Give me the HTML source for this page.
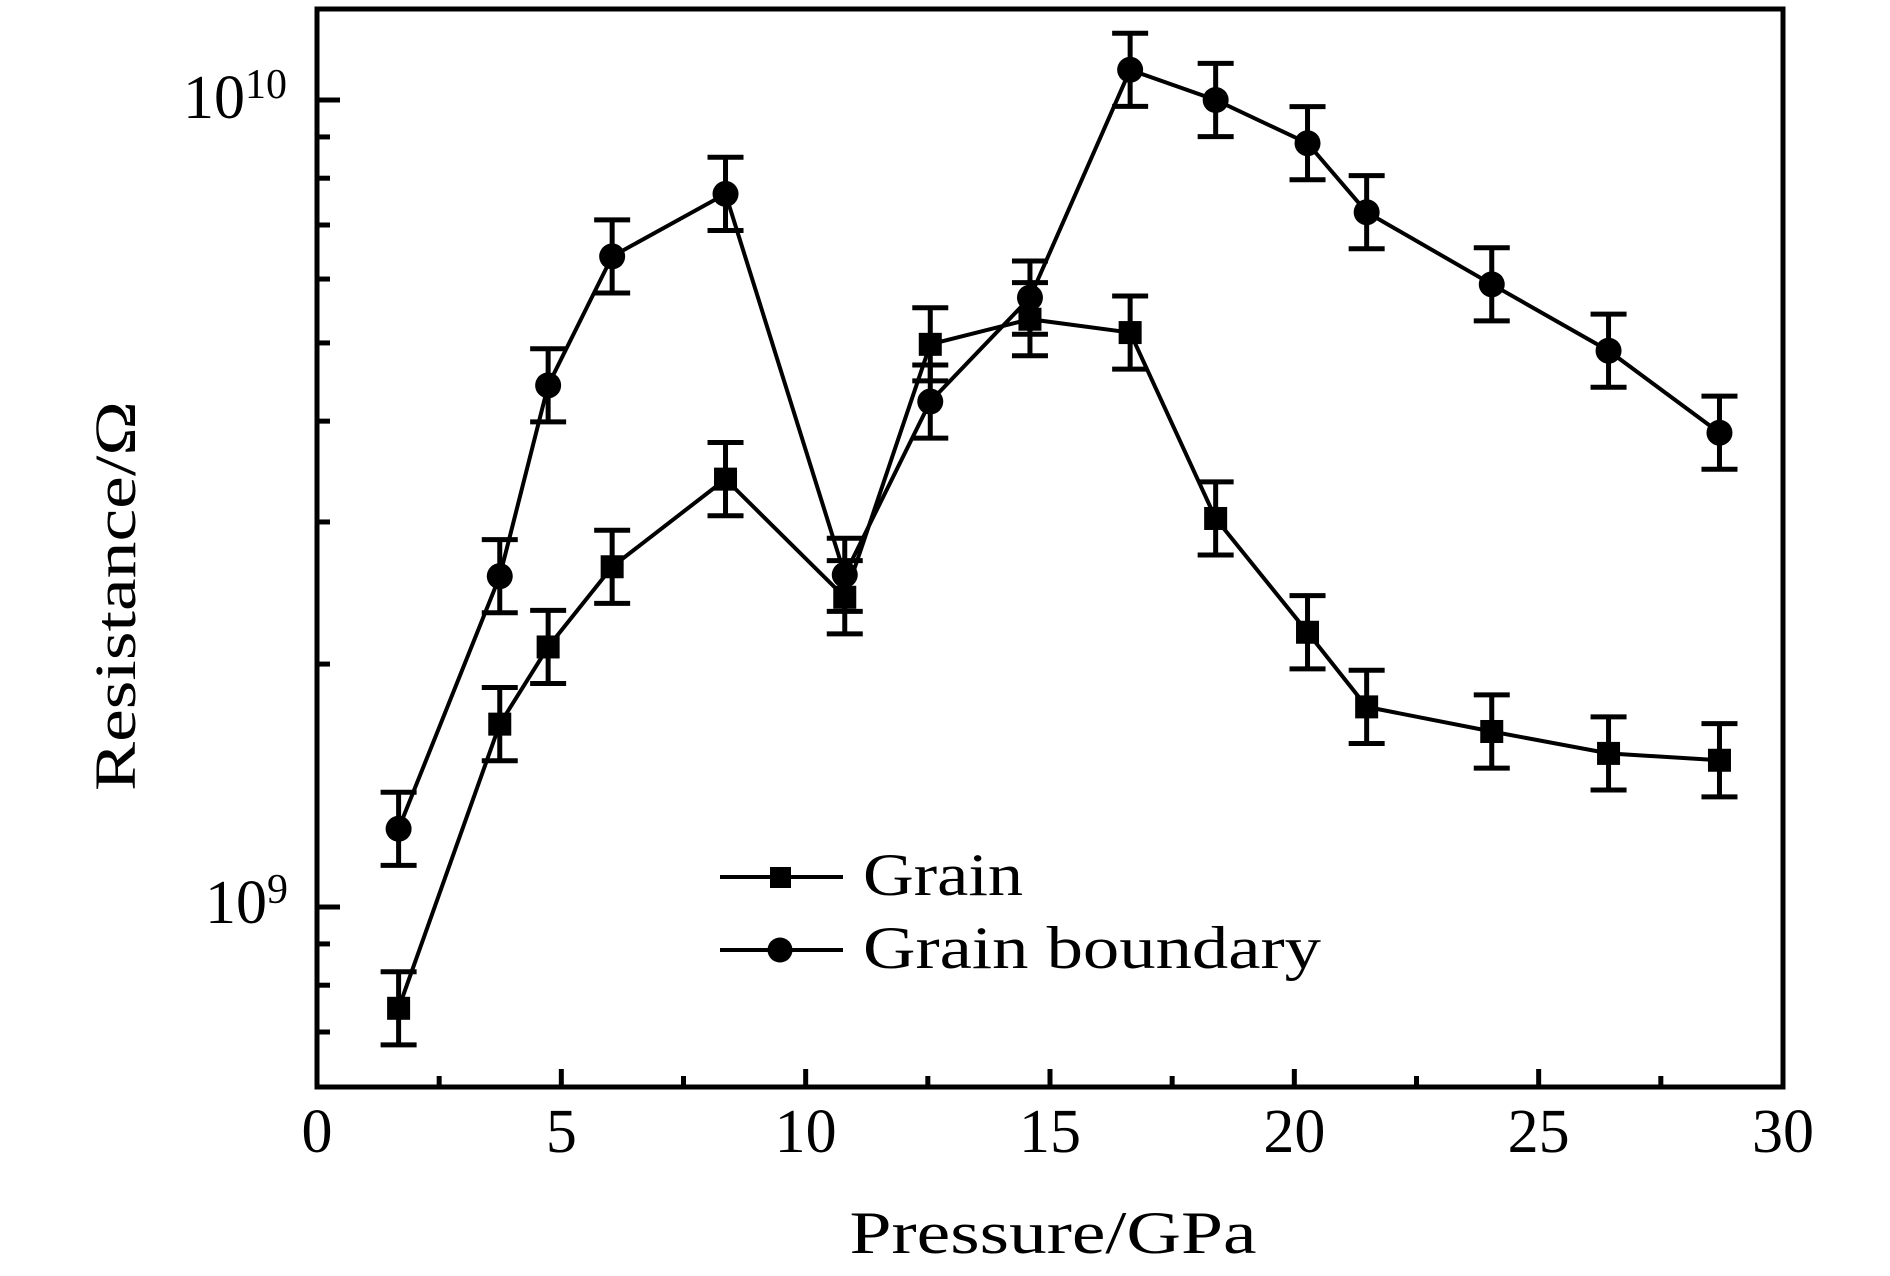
<!DOCTYPE html>
<html><head><meta charset="utf-8"><style>
html,body{margin:0;padding:0;background:#fff;}
svg{display:block;font-family:"Liberation Serif",serif;}
</style></head><body>
<svg id="chart" width="1890" height="1276" viewBox="0 0 1890 1276" xmlns="http://www.w3.org/2000/svg">
<g id="grid"></g>
<g id="series"></g>
<rect x="317" y="9" width="1466" height="1078" fill="none" stroke="#000" stroke-width="5"/>
<text x="183" y="118" font-size="62">10<tspan font-size="42" dy="-20">10</tspan></text>
<text x="205" y="923" font-size="62">10<tspan font-size="42" dy="-20">9</tspan></text>
<text x="1053" y="1253" font-size="60" text-anchor="middle" textLength="407" lengthAdjust="spacingAndGlyphs">Pressure/GPa</text>
<text transform="translate(135,596) rotate(-90)" font-size="58" text-anchor="middle" textLength="390" lengthAdjust="spacingAndGlyphs">Resistance/Ω</text>
<g>
<line x1="720" y1="877" x2="843" y2="877" stroke="#000" stroke-width="4"/>
<rect x="770" y="867" width="21" height="21" fill="#000"/>
<text x="863" y="895" font-size="60" textLength="160" lengthAdjust="spacingAndGlyphs">Grain</text>
<line x1="720" y1="950" x2="843" y2="950" stroke="#000" stroke-width="4"/>
<circle cx="780" cy="950" r="12.5" fill="#000"/>
<text x="863" y="968" font-size="60" textLength="458" lengthAdjust="spacingAndGlyphs">Grain boundary</text>
</g>
</svg>
<script>
const pressure = [1.67,3.74,4.73,6.04,8.36,10.8,12.55,14.59,16.64,18.39,20.27,21.48,24.04,26.43,28.7];
const grainR = [0.749e9,1.685e9,2.10e9,2.64e9,3.39e9,2.42e9,4.98e9,5.35e9,5.15e9,3.03e9,2.19e9,1.77e9,1.65e9,1.55e9,1.52e9];
const boundaryR = [1.25e9,2.57e9,4.43e9,6.40e9,7.65e9,2.58e9,4.23e9,5.69e9,1.09e10,1.0e10,8.84e9,7.26e9,5.91e9,4.89e9,3.87e9];
const errFrac = [0.11,0.11,0.11,0.11,0.11,0.11,0.11,0.11,0.11,0.11,0.11,0.11,0.11,0.11,0.11];
const xTickLabels = [0,5,10,15,20,25,30];
const NS="http://www.w3.org/2000/svg";
const X0=317,XW=1466,XMAX=30;
const Y1E9=907,DEC=807;
function sx(v){return X0+v/XMAX*XW;}
function sy(v){return Y1E9-DEC*Math.log10(v/1e9);}
function mk(tag,attrs,parent){const e=document.createElementNS(NS,tag);for(const k in attrs)e.setAttribute(k,attrs[k]);parent.appendChild(e);return e;}
const grid=document.getElementById('grid');
const ser=document.getElementById('series');
for(let v=0;v<=XMAX;v+=2.5){
  const major=(v%5===0);
  const t=mk('line',{x1:sx(v),x2:sx(v),y1:1087,y2:1087-(major?18:11),stroke:'#000','stroke-width':5},grid);
  
  
}
xTickLabels.forEach(v=>{
  const t=mk('text',{x:sx(v),y:1152,'font-size':62,'text-anchor':'middle'},grid);
  t.textContent=v;
  
  
});
[1e8,1e9].forEach(dec=>{
  for(let m=1;m<=9;m++){
    const v=m*dec; const y=sy(v);
    if(y<12||y>1084) continue;
    const t=mk('line',{x1:317,x2:317+(m===1?23:13),y1:y,y2:y,stroke:'#000','stroke-width':5},grid);
    
    
  }
});
[1e10].forEach(v=>{const y=sy(v);const t=mk('line',{x1:317,x2:340,y1:y,y2:y,stroke:'#000','stroke-width':5},grid);
  
  });
function drawSeries(vals,shape,name){
  const pts=pressure.map((p,i)=>sx(p)+','+sy(vals[i])).join(' ');
  const l=mk('polyline',{points:pts,fill:'none',stroke:'#000','stroke-width':4},ser);
  
  
  pressure.forEach((p,i)=>{
    const x=sx(p),y=sy(vals[i]);
    const yt=sy(vals[i]*(1+errFrac[i])),yb=sy(vals[i]/(1+errFrac[i]));
    const g=mk('g',{stroke:'#000','stroke-width':5},ser);
    
    
    mk('line',{x1:x,x2:x,y1:yt,y2:yb},g);
    mk('line',{x1:x-18,x2:x+18,y1:yt,y2:yt},g);
    mk('line',{x1:x-18,x2:x+18,y1:yb,y2:yb},g);
    let m;
    if(shape==='square') m=mk('rect',{x:x-11.5,y:y-11.5,width:23,height:23,fill:'#000'},ser);
    else m=mk('circle',{cx:x,cy:y,r:13,fill:'#000'},ser);
    
    
  });
}
drawSeries(boundaryR,'circle','grain-boundary');
drawSeries(grainR,'square','grain');
</script>
</body></html>
